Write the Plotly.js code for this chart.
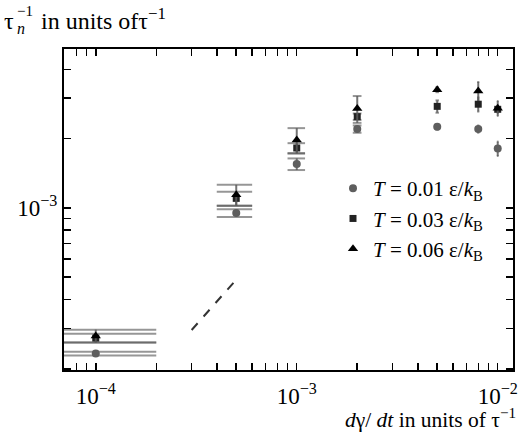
<!DOCTYPE html>
<html>
<head>
<meta charset="utf-8">
<script src="https://cdn.plot.ly/plotly-3.0.1.min.js"></script>
<style>html,body{margin:0;padding:0;background:#fff;}#chart{width:519px;height:440px;}</style>
</head>
<body>
<div id="chart"></div>
<script>
// ---- data ----
const shearRates = [1e-4, 5e-4, 1e-3, 2e-3, 5e-3, 8e-3, 1e-2];

const rateT001 = [2.33e-4, 9.5e-4, 1.55e-3, 2.2e-3, 2.25e-3, 2.2e-3, 1.81e-3];
const errT001  = [0.045e-4, 0.37e-4, 0.09e-3, 0.08e-3, 0.06e-3, 0.08e-3, 0.13e-3];

const rateT003 = [2.72e-4, 1.10e-3, 1.82e-3, 2.49e-3, 2.76e-3, 2.82e-3, 2.68e-3];
const errT003  = [0.12e-4, 0.75e-4, 0.09e-3, 0.08e-3, 0.17e-3, 0.2e-3, 0.1e-3];

const rateT006 = [2.78e-4, 1.14e-3, 1.97e-3, 2.7e-3, 3.26e-3, 3.22e-3, 2.71e-3];
const errT006  = [0.18e-4, 1.2e-4, 0.25e-3, 0.36e-3, 0.08e-3, 0.3e-3, 0.2e-3];

const seriesNames = [
  '<i>T</i> = 0.01 ε/<i>k</i><sub>B</sub>',
  '<i>T</i> = 0.03 ε/<i>k</i><sub>B</sub>',
  '<i>T</i> = 0.06 ε/<i>k</i><sub>B</sub>'
];

const guideX = [3e-4, 5e-4];
const guideY = [2.95e-4, 4.88e-4];

const xTickVals = [7e-5,8e-5,9e-5,1e-4,2e-4,3e-4,4e-4,5e-4,6e-4,7e-4,8e-4,9e-4,
                   1e-3,2e-3,3e-3,4e-3,5e-3,6e-3,7e-3,8e-3,9e-3,1e-2];
const xTickText = ['','','','10<sup>−4</sup>','','','','','','','','',
                   '10<sup>−3</sup>','','','','','','','','','10<sup>−2</sup>'];
const yTickVals = [2e-4,3e-4,4e-4,5e-4,6e-4,7e-4,8e-4,9e-4,1e-3,2e-3,3e-3,4e-3];
const yTickText = ['','','','','','','','','10<sup>−3</sup>','','',''];

// ---- styling ----
const FONT = 'Liberation Serif';
const capHalf = 1e-4;              // half width of error-bar caps (data units)
const capColor = 'rgba(80,80,80,0.6)';
const barColor = 'rgba(90,90,90,0.85)';

function caps(x, y, e) {
  const xs = [], ys = [];
  for (let i = 0; i < x.length; i++) {
    const x0 = Math.max(x[i] - capHalf, 1e-5), x1 = x[i] + capHalf;
    xs.push(x0, x1, null, x0, x1, null);
    ys.push(y[i] + e[i], y[i] + e[i], null, y[i] - e[i], y[i] - e[i], null);
  }
  return {x: xs, y: ys, type: 'scatter', mode: 'lines', showlegend: false,
          hoverinfo: 'skip', line: {color: capColor, width: 2}};
}

function series(y, e, name, symbol, color, size) {
  return {x: shearRates, y: y, name: name, type: 'scatter', mode: 'markers',
          marker: {symbol: symbol, color: color, size: size},
          error_y: {type: 'data', array: e, visible: true, width: 0, thickness: 2, color: barColor}};
}

const traces = [
  caps(shearRates, rateT001, errT001),
  caps(shearRates, rateT003, errT003),
  caps(shearRates, rateT006, errT006),
  {x: guideX, y: guideY, type: 'scatter', mode: 'lines', showlegend: false,
   line: {color: '#333', width: 2, dash: 'dash'}},
  series(rateT001, errT001, seriesNames[0], 'circle', '#5e5e5e', 8),
  series(rateT003, errT003, seriesNames[1], 'square', '#222', 7),
  series(rateT006, errT006, seriesNames[2], 'triangle-up', '#000', 9)
];

const L = 64, R = 513, T = 49, B = 370;
const px = v => (v - L) / (R - L);
const py = v => (B - v) / (B - T);

const axisCommon = {
  type: 'log', ticks: 'inside', ticklen: 7, tickwidth: 1.5, tickcolor: '#000',
  showline: true, linecolor: '#000', linewidth: 2, mirror: 'ticks',
  showgrid: false, zeroline: false,
  tickfont: {family: FONT, size: 23, color: '#000'}
};

const layout = {
  width: 519, height: 440,
  margin: {l: L, r: 519 - R, t: T, b: 440 - B},
  paper_bgcolor: '#fff', plot_bgcolor: '#fff',
  font: {family: FONT, color: '#000'},
  xaxis: Object.assign({}, axisCommon, {range: [-4.158, -1.924], tickmode: 'array',
          tickvals: xTickVals, ticktext: xTickText, ticklabelstandoff: 4}),
  yaxis: Object.assign({}, axisCommon, {range: [-3.704, -2.31], tickmode: 'array',
          tickvals: yTickVals, ticktext: yTickText}),
  legend: {x: px(333), y: py(168), xanchor: 'left', yanchor: 'top',
           bgcolor: 'rgba(0,0,0,0)', font: {family: FONT, size: 21, color: '#000'}},
  showlegend: true,
  annotations: [
    {text: 'τ', xref: 'paper', yref: 'paper', x: px(2), y: py(21), xanchor: 'left', yanchor: 'middle',
     showarrow: false, font: {family: FONT, size: 24}},
    {text: '−1', xref: 'paper', yref: 'paper', x: px(15), y: py(11), xanchor: 'left', yanchor: 'middle',
     showarrow: false, font: {family: FONT, size: 15}},
    {text: '<i>n</i>', xref: 'paper', yref: 'paper', x: px(15), y: py(29), xanchor: 'left', yanchor: 'middle',
     showarrow: false, font: {family: FONT, size: 16}},
    {text: 'in units ofτ<sup>−1</sup>', xref: 'paper', yref: 'paper', x: px(39), y: py(19),
     xanchor: 'left', yanchor: 'middle', showarrow: false, font: {family: FONT, size: 24}},
    {text: '<i>d</i>γ/ <i>dt</i> in units of τ<sup>−1</sup>', xref: 'paper', yref: 'paper',
     x: px(518), y: py(419), xanchor: 'right', yanchor: 'middle', showarrow: false,
     font: {family: FONT, size: 21.5}}
  ]
};

Plotly.newPlot('chart', traces, layout, {displayModeBar: false, staticPlot: true});
</script>
</body>
</html>
